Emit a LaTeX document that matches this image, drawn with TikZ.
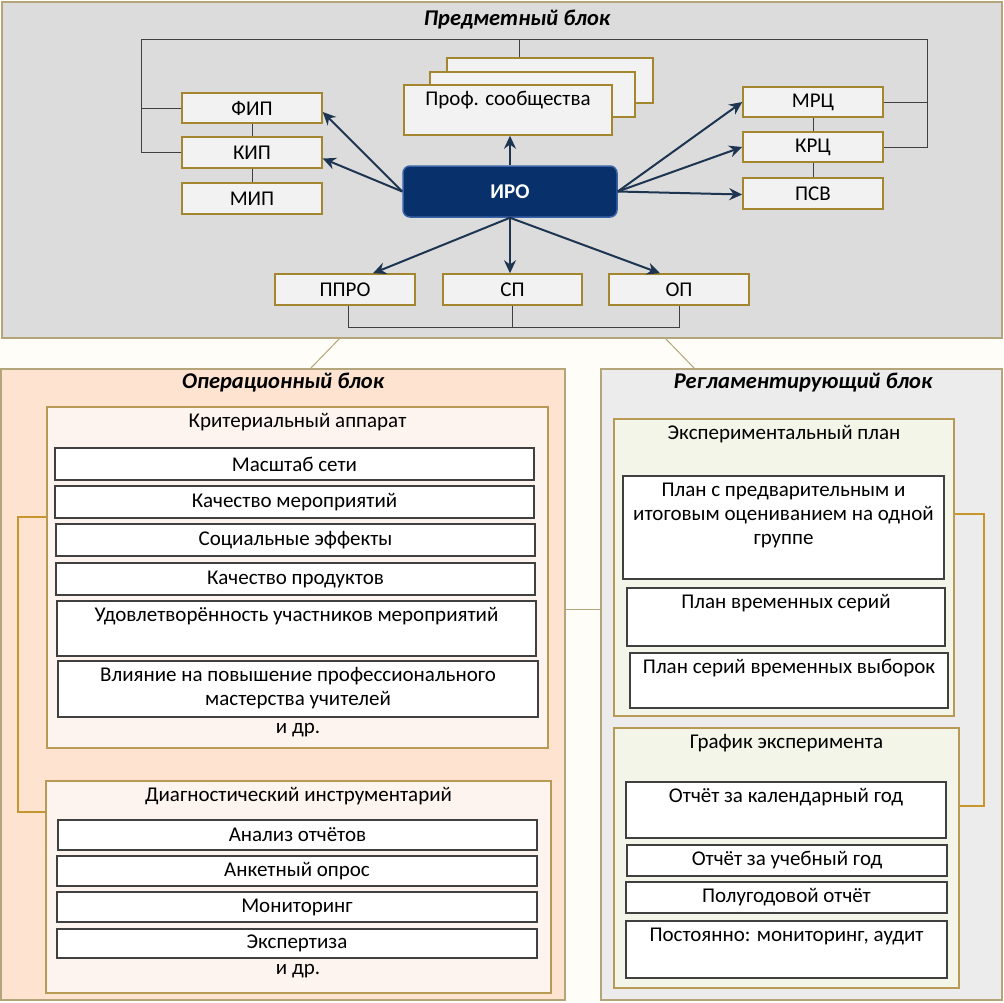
\documentclass[tikz,border=0pt]{standalone}
\usepackage{fontspec}
\setmainfont{Carlito}
\usetikzlibrary{arrows.meta}

\definecolor{pagebg}{HTML}{FFFDF7}
\definecolor{panelline}{HTML}{B4A57A}
\definecolor{predmfill}{HTML}{DCDCDC}
\definecolor{boxline}{HTML}{A4862E}
\definecolor{boxfill}{HTML}{F2F2F2}
\definecolor{irofill}{HTML}{08306A}
\definecolor{iroline}{HTML}{3A62A6}
\definecolor{arrowcol}{HTML}{1E3552}
\definecolor{linkcol}{HTML}{404040}
\definecolor{operfill}{HTML}{FDE3D0}
\definecolor{kritfill}{HTML}{FDF3EF}
\definecolor{reglfill}{HTML}{ECECEC}
\definecolor{explfill}{HTML}{F3F5E8}
\definecolor{groupline}{HTML}{B89A55}
\definecolor{bracketcol}{HTML}{C8962C}

\tikzset{
  panel/.style={draw=panelline, line width=1.5pt, inner sep=0pt},
  paneltitle/.style={font=\fontsize{22.5}{26}\selectfont\bfseries\itshape},
  topbox/.style={draw=boxline, fill=boxfill, line width=1.5pt,
    minimum width=140, minimum height=30, inner sep=0pt},
  groupbox/.style={draw=groupline, line width=1.3pt, inner sep=0pt},
  itembox/.style={draw=linkcol, fill=white, line width=1.2pt, inner sep=0pt},
  toptext/.style={label={[anchor=north, align=center, inner sep=0pt, yshift=-7pt]north:{#1}}},
  link/.style={draw=linkcol, line width=0.8pt},
  tanline/.style={draw=panelline, line width=1pt},
  arrow/.style={draw=arrowcol, line width=2pt, -{Stealth[length=13pt, width=12pt]}},
  bracket/.style={draw=bracketcol, line width=2.5pt}
}

\begin{document}
\begin{tikzpicture}[x=1pt, y=-1pt, font=\fontsize{21}{24}\selectfont]
  \useasboundingbox[fill=pagebg] (0,0) rectangle (1004,1002);

  % Предметный блок
  \node[panel, fill=predmfill, minimum width=1000, minimum height=336] (predm) at (502,170) {};
  \node[paneltitle] (predmT) at (517,20) {Предметный блок};

  \node[topbox] (fip) at (252,108) {ФИП};
  \node[topbox, minimum height=31] (kip) at (252,152.5) {КИП};
  \node[topbox, minimum height=31] (mip) at (252,198.5) {МИП};

  \node[topbox, minimum width=206, minimum height=45] (profC) at (550,80.5) {};
  \node[topbox, minimum width=205, minimum height=45] (profB) at (532.5,94.5) {};
  \node[topbox, minimum width=208, minimum height=50, toptext={Проф. сообщества}] (profA) at (508,110) {};

  \node[draw=iroline, fill=irofill, line width=1.5pt, rounded corners=7pt,
    minimum width=214, minimum height=51, text=white, font=\fontsize{21}{24}\selectfont\bfseries] (iro) at (510,191.5) {ИРО};

  \node[topbox] (mrc) at (813,102) {МРЦ};
  \node[topbox] (krc) at (813,147) {КРЦ};
  \node[topbox, minimum height=31] (psv) at (813,193.5) {ПСВ};

  \node[topbox, minimum height=31] (pppo) at (345,289.5) {ППРО};
  \node[topbox, minimum width=139, minimum height=31] (sp) at (512.5,289.5) {СП};
  \node[topbox, minimum height=31] (op) at (679,289.5) {ОП};

  % связи
  \coordinate (topL) at (141,39);
  \coordinate (topR) at (927,39);
  \draw[link] (fip.west) -| (topL) -- (topR) |- (krc.east);
  \draw[link] (kip.west) -| (topL);
  \draw[link] (mrc.east) -| (topR);
  \draw[link] (profC.north -| 519,0) -- (topL -| 519,0);
  \draw[link] (fip.south) -- (kip.north);
  \draw[link] (kip.south) -- (mip.north);
  \draw[link] (mrc.south) -- (krc.north);
  \draw[link] (krc.south) -- (psv.north);
  \draw[link] ([xshift=3pt]pppo.south) -- ++(0,22) -| (op.south);
  \draw[link] (sp.south) -- ++(0,22);

  \draw[arrow] (iro.west) -- ([yshift=-4pt]fip.east);
  \draw[arrow] (iro.west) -- ([yshift=-6pt]kip.east);
  \draw[arrow] (iro.north) -- (iro.north |- profA.south);
  \draw[arrow] (iro.east) -- (mrc.west);
  \draw[arrow] (iro.east) -- (krc.west);
  \draw[arrow] (iro.east) -- ([yshift=-1pt]psv.west);
  \draw[arrow] (iro.south) -- ([xshift=28pt]pppo.north);
  \draw[arrow] (iro.south) -- (iro.south |- sp.north);
  \draw[arrow] (iro.south) -- ([xshift=-19pt]op.north);

  % Операционный блок
  \node[panel, fill=operfill, minimum width=564, minimum height=631] (oper) at (283,684.5) {};
  \node[paneltitle] (operT) at (283,383) {Операционный блок};

  \node[groupbox, fill=kritfill, minimum width=501, minimum height=341,
    toptext={Критериальный аппарат}] (krit) at (297.5,577.5) {};
  \node[itembox, minimum width=479, minimum height=32] (k1) at (294.5,464) {Масштаб сети};
  \node[itembox, minimum width=479, minimum height=32] (k2) at (294.5,502) {Качество мероприятий};
  \node[itembox, minimum width=479, minimum height=32] (k3) at (295.5,540) {Социальные эффекты};
  \node[itembox, minimum width=479, minimum height=32] (k4) at (295.5,579) {Качество продуктов};
  \node[itembox, minimum width=479, minimum height=55,
    toptext={Удовлетворённость участников мероприятий}] (k5) at (296.5,628.5) {};
  \node[itembox, minimum width=480, minimum height=56,
    toptext={Влияние на повышение профессионального\\мастерства учителей}] (k6) at (298,689) {};
  \node (kritEtc) at (298,730) {и др.};

  \node[groupbox, fill=kritfill, minimum width=505, minimum height=212,
    toptext={Диагностический инструментарий}] (diag) at (298.5,887) {};
  \node[itembox, minimum width=479, minimum height=30] (d1) at (297.5,835) {Анализ отчётов};
  \node[itembox, minimum width=480, minimum height=30] (d2) at (297,871) {Анкетный опрос};
  \node[itembox, minimum width=480, minimum height=30] (d3) at (297,907) {Мониторинг};
  \node[itembox, minimum width=480, minimum height=29] (d4) at (297,943.5) {Экспертиза};
  \node (diagEtc) at (298,971) {и др.};

  \draw[bracket] (krit.west |- 0,517) -- (18,517) -- (18,812) -- (diag.west |- 0,812);

  % Регламентирующий блок
  \node[panel, fill=reglfill, minimum width=401, minimum height=631] (regl) at (801.5,684.5) {};
  \node[paneltitle] (reglT) at (803,383) {Регламентирующий блок};

  \node[groupbox, fill=explfill, minimum width=340, minimum height=297,
    toptext={Экспериментальный план}] (expl) at (784,567.5) {};
  \node[itembox, minimum width=321, minimum height=103,
    toptext={План с предварительным и\\итоговым оцениванием на одной\\группе}] (e1) at (783.5,527.5) {};
  \node[itembox, minimum width=318, minimum height=58,
    toptext={План временных серий}] (e2) at (786,617) {};
  \node[itembox, minimum width=318, minimum height=55,
    toptext={План серий временных выборок}] (e3) at (789,680.5) {};

  \node[groupbox, fill=explfill, minimum width=345, minimum height=260,
    toptext={График эксперимента}] (graf) at (786.5,858) {};
  \node[itembox, minimum width=320, minimum height=56,
    toptext={Отчёт за календарный год}] (g1) at (786,810) {};
  \node[itembox, minimum width=320, minimum height=31] (g2) at (787,860.5) {Отчёт за учебный год};
  \node[itembox, minimum width=321, minimum height=31] (g3) at (786.5,897.5) {Полугодовой отчёт};
  \node[itembox, minimum width=321, minimum height=57,
    toptext={Постоянно: мониторинг, аудит}] (g4) at (786.5,949.5) {};

  \draw[bracket] (expl.east |- 0,514) -| (984,806) -- (graf.east |- 0,806);

  % связи блоков
  \draw[tanline] (340,338) -- (310,369);
  \draw[tanline] (665,338) -- (695,369);
  \draw[tanline] (oper.east |- 0,609) -- (regl.west |- 0,609);
\end{tikzpicture}
\end{document}
